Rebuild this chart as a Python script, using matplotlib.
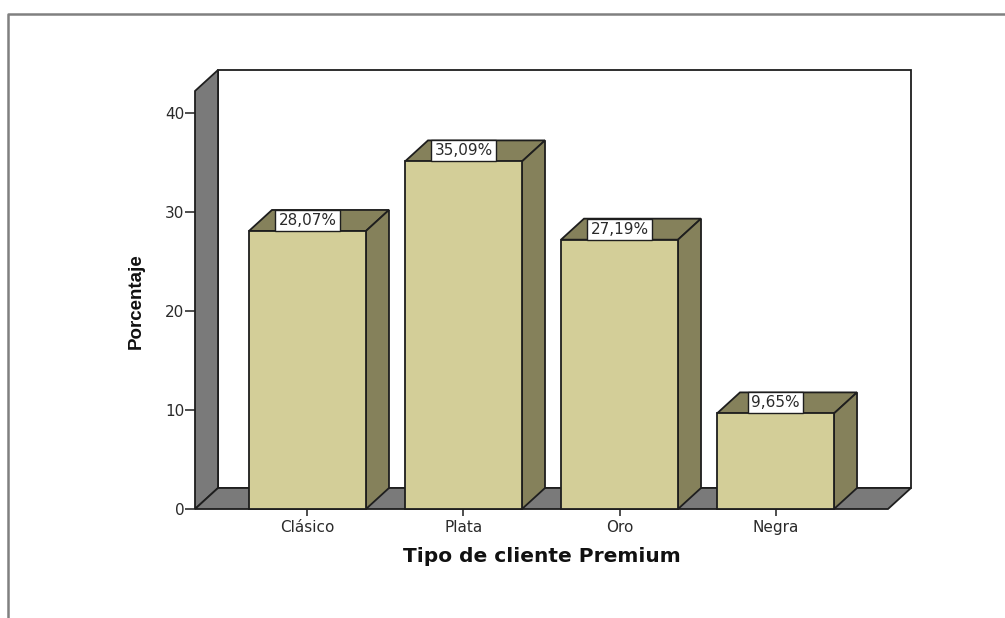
import matplotlib
matplotlib.use('Agg')
import matplotlib.pyplot as plt
from matplotlib.lines import Line2D
from matplotlib.patches import Polygon, Rectangle

categorias = ['Clásico', 'Plata', 'Oro', 'Negra']
porcentajes = [28.07, 35.09, 27.19, 9.65]
etiquetas = ['28,07%', '35,09%', '27,19%', '9,65%']
yticks = [0, 10, 20, 30, 40]

W, H = 1005, 618
BAR_W = 117 / 156
# depth of the 3D box in data units
DX = 23 / 156
DY = 21 / 9.9
XMIN, XMAX = -0.721, 3.721
YMAX = 42.2

FRONT = '#d3ce98'
SIDE = '#85815b'
WALL = '#7a7a7a'
LINE = '#1e1e1e'
TEXT = '#2a2a2a'
LW = 1.3

plt.rcParams['font.family'] = ['DejaVu Sans']

fig = plt.figure(figsize=(W / 100, H / 100), dpi=100)
ax = fig.add_axes([195 / W, 1 - 509 / H, (888 - 195) / W, (509 - 91) / H])
ax.set_xlim(XMIN, XMAX)
ax.set_ylim(0, YMAX)
ax.patch.set_visible(False)
for s in ax.spines.values():
    s.set_visible(False)


def poly(pts, color, z):
    p = Polygon(pts, closed=True, facecolor=color, edgecolor=LINE, linewidth=LW,
                joinstyle='miter', clip_on=False, zorder=z)
    ax.add_patch(p)


# back wall, left wall and floor
poly([(XMIN + DX, DY), (XMAX + DX, DY), (XMAX + DX, YMAX + DY), (XMIN + DX, YMAX + DY)], 'white', 1)
poly([(XMIN, 0), (XMIN + DX, DY), (XMIN + DX, YMAX + DY), (XMIN, YMAX)], WALL, 2)
poly([(XMIN, 0), (XMIN + DX, DY), (XMAX + DX, DY), (XMAX, 0)], WALL, 2)

# bars: front face with ax.bar, then top and right faces
for i, v in enumerate(porcentajes):
    z = 3 + i
    l, r = i - BAR_W / 2, i + BAR_W / 2
    poly([(l, v), (l + DX, v + DY), (r + DX, v + DY), (r, v)], SIDE, z)
    poly([(r, 0), (r + DX, DY), (r + DX, v + DY), (r, v)], SIDE, z)
    ax.bar(i, v, width=BAR_W, color=FRONT, edgecolor=LINE, linewidth=LW, zorder=z, clip_on=False)

# value labels sit in a white box on the top face
fig.canvas.draw()
rend = fig.canvas.get_renderer()
for i, v in enumerate(porcentajes):
    z = 3 + i
    t = ax.text(i, v + DY / 2, etiquetas[i], ha='center', va='center', fontsize=11,
                color=TEXT, zorder=z + 0.2)
    w = t.get_window_extent(rend).width + 7
    w = w / (ax.get_window_extent(rend).width / (XMAX - XMIN))
    ax.add_patch(Rectangle((i - w / 2, v), w, DY, facecolor='white', edgecolor=LINE,
                           linewidth=1.0, zorder=z + 0.1, clip_on=False))

ax.set_xticks(range(len(categorias)))
ax.set_xticklabels(categorias, fontsize=11, color=TEXT, va='baseline')
ax.set_yticks(yticks)
ax.set_yticklabels([str(v) for v in yticks], fontsize=11, color=TEXT)
ax.tick_params(axis='x', length=5, width=1.1, color=LINE, pad=11.5)
ax.tick_params(axis='y', length=7, width=1.1, color=LINE, pad=0.5)

fig.text(542 / W, 1 - 556 / H, 'Tipo de cliente Premium', ha='center', va='center',
         fontsize=14.5, fontweight='bold', color='#111111')
fig.text(136 / W, 1 - 301 / H, 'Porcentaje', ha='center', va='center', rotation=90,
         fontsize=13.5, fontweight='bold', family='Liberation Sans', color='#111111')

# outer frame, open on the right and bottom
fig.add_artist(Line2D([8 / W, 8 / W, 1], [0, 1 - 13.5 / H, 1 - 13.5 / H],
                      color='#808080', linewidth=1.8, transform=fig.transFigure))

fig.savefig('out.png', dpi=100)
